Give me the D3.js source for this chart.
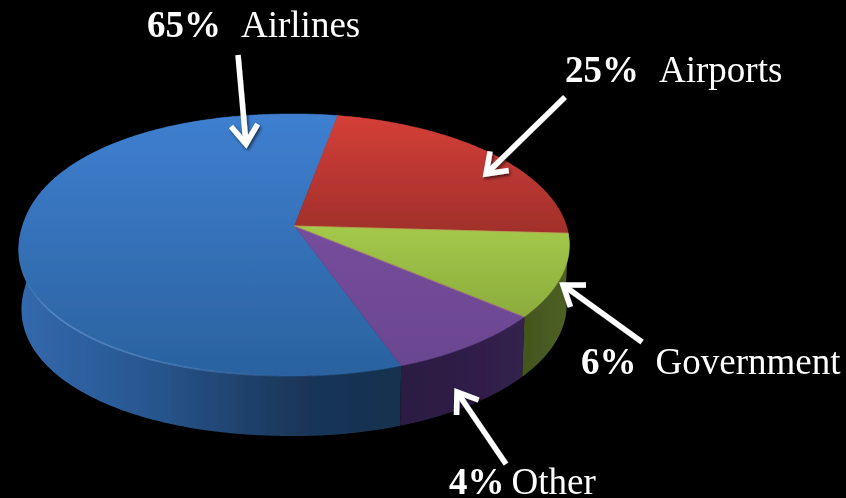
<!DOCTYPE html>
<html lang="en">
<head>
<meta charset="UTF-8">
<title>Revenue shares</title>
<script src="https://cdn.jsdelivr.net/npm/d3@7"></script>
<style>
  html, body { margin: 0; padding: 0; background: #000; overflow: hidden; }
  text { font-family: "Liberation Serif", serif; fill: #fff; font-size: 37px; }
</style>
</head>
<body>
<svg id="chart" width="846" height="498"></svg>
<script>
// the printed labels
const categories = ['Airlines', 'Airports', 'Government', 'Other'];
const percents = [65, 25, 6, 4];
// the slices as they are drawn in the picture (not the same as the labels)
const drawnShares = [58.4, 23, 10.2, 8.4];

const topColors = [['#3f7fd0', '#2a629f'], ['#d53f38', '#a02f2a'], ['#a3c94a', '#88a83b'], ['#7c54a6', '#6a458f']];
const wallColors = [
  [[20, '#3269ad'], [150, '#28568f'], [300, '#1a3658'], [400, '#16304f']],
  [[300, '#5a1a18'], [500, '#5a1a18']],
  [[524, '#44551e'], [568, '#4e6024']],
  [[400, '#2b1b42'], [524, '#33214d']]
];

const labels = [
  { x: 147, y: 37, gap: 20 },
  { x: 565, y: 82, gap: 20 },
  { x: 581, y: 374, gap: 19 },
  { x: 449, y: 494, gap: 7 }
];
const arrows = [
  [[238, 55], [246, 144]],
  [[565, 97], [486, 174]],
  [[642, 342], [563, 285]],
  [[506, 464], [457, 392]]
];

const width = 846, height = 498;
const svg = d3.select('#chart');
const defs = svg.append('defs');
svg.append('rect').attr('width', width).attr('height', height).attr('fill', '#000');

defs.append('filter').attr('id', 'soft')
  .append('feGaussianBlur').attr('stdDeviation', 0.7);
defs.append('filter').attr('id', 'softText')
  .append('feGaussianBlur').attr('stdDeviation', 0.3);
const shadow = defs.append('filter').attr('id', 'shadow')
  .attr('x', '-30%').attr('y', '-30%').attr('width', '160%').attr('height', '160%');
shadow.append('feDropShadow').attr('dx', 1.5).attr('dy', 2).attr('stdDeviation', 1.5)
  .attr('flood-color', '#000').attr('flood-opacity', 0.6);

// disc -> screen, a homography so the centre sits above the middle of the ellipse
const cx = 294.5, A = 272, a = 95.5, b = 226, c = -0.145, depth = 60;
const bulgeLeft = 2.12; // the left side is a bit fuller than a true ellipse
function project(theta, r, drop) {
  const s = Math.sin(theta), co = Math.cos(theta);
  const n = s < 0 ? bulgeLeft : 2;
  const f = r / Math.pow(Math.pow(Math.abs(s), n) + Math.pow(Math.abs(co), n), 1 / n);
  const u = s * f, v = -co * f;
  const w = 1 + c * v;
  const k = drop ? 0.99 : 1;
  return [cx + k * A * u / w, (a * v + b) / w + (drop ? depth : 0)];
}

const startAngle = 160.2 * Math.PI / 180;
const pie = d3.pie().sort(null).startAngle(startAngle).endAngle(startAngle + 2 * Math.PI);
const arcs = pie(drawnShares);
const line = d3.line();

function rimPoints(s, e, drop) {
  const n = Math.max(2, Math.ceil((e - s) / 0.01));
  return d3.range(n + 1).map(i => project(s + (e - s) * i / n, 1, drop));
}

const disc = svg.append('g').attr('filter', 'url(#soft)');

// side walls first, the top covers whatever is behind
arcs.forEach((d, i) => {
  const id = 'wall' + i;
  const x0 = wallColors[i][0][0], x1 = wallColors[i][wallColors[i].length - 1][0];
  const g = defs.append('linearGradient').attr('id', id).attr('gradientUnits', 'userSpaceOnUse')
    .attr('x1', x0).attr('x2', x1).attr('y1', 0).attr('y2', 0);
  wallColors[i].forEach(s => g.append('stop')
    .attr('offset', (s[0] - x0) / (x1 - x0)).attr('stop-color', s[1]));
  const pts = rimPoints(d.startAngle, d.endAngle, false)
    .concat(rimPoints(d.startAngle, d.endAngle, true).reverse());
  disc.append('path').attr('d', line(pts) + 'Z').attr('fill', `url(#${id})`);
});

// top faces
arcs.forEach((d, i) => {
  const id = 'top' + i;
  const g = defs.append('linearGradient').attr('id', id).attr('gradientUnits', 'userSpaceOnUse')
    .attr('x1', 0).attr('x2', 0).attr('y1', i == 2 ? 226 : 114).attr('y2', i == 1 ? 233 : i == 2 ? 330 : 376);
  g.append('stop').attr('offset', 0).attr('stop-color', topColors[i][0]);
  g.append('stop').attr('offset', 1).attr('stop-color', topColors[i][1]);
  const pts = [project(0, 0, false)].concat(rimPoints(d.startAngle, d.endAngle, false));
  disc.append('path').attr('d', line(pts) + 'Z').attr('fill', `url(#${id})`)
    .attr('stroke', `url(#${id})`).attr('stroke-width', 0.5);
});

// tan seams around the green slice
[arcs[2].startAngle, arcs[2].endAngle].forEach(t => {
  disc.append('path').attr('d', line([project(0, 0, false), project(t, 1, false)]))
    .attr('stroke', '#c8a060').attr('stroke-opacity', 0.55).attr('stroke-width', 1.2).attr('fill', 'none');
});

// light rim on the front left of the blue slice
const rim = defs.append('linearGradient').attr('id', 'rim').attr('gradientUnits', 'userSpaceOnUse')
  .attr('x1', 20).attr('x2', 300).attr('y1', 0).attr('y2', 0);
[[0, 0.1], [0.12, 0.6], [0.55, 0.4], [1, 0]].forEach(s => rim.append('stop')
  .attr('offset', s[0]).attr('stop-color', '#6fa3e0').attr('stop-opacity', s[1]));
disc.append('path')
  .attr('d', line(rimPoints(arcs[0].startAngle + 0.05, arcs[0].startAngle + 1.7, false)))
  .attr('fill', 'none').attr('stroke', 'url(#rim)').attr('stroke-width', 1.6);

// arrows
arrows.forEach(p => {
  const [from, to] = p;
  const ang = Math.atan2(to[1] - from[1], to[0] - from[0]);
  const wing = s => [to[0] - 23 * Math.cos(ang + s * 0.62), to[1] - 23 * Math.sin(ang + s * 0.62)];
  const g = svg.append('g').attr('filter', 'url(#shadow)')
    .attr('fill', 'none').attr('stroke', '#fff').attr('stroke-width', 5.5);
  g.append('path').attr('d', line([from, [to[0] - 3 * Math.cos(ang), to[1] - 3 * Math.sin(ang)]]));
  g.append('path').attr('d', line([wing(1), to, wing(-1)])).attr('stroke-linejoin', 'miter');
});

// labels
labels.forEach((l, i) => {
  const t = svg.append('text').attr('x', l.x).attr('y', l.y).attr('filter', 'url(#softText)');
  t.append('tspan').attr('font-weight', 'bold').text(percents[i] + '%');
  t.append('tspan').attr('dx', l.gap).text(categories[i]);
});
</script>
</body>
</html>
